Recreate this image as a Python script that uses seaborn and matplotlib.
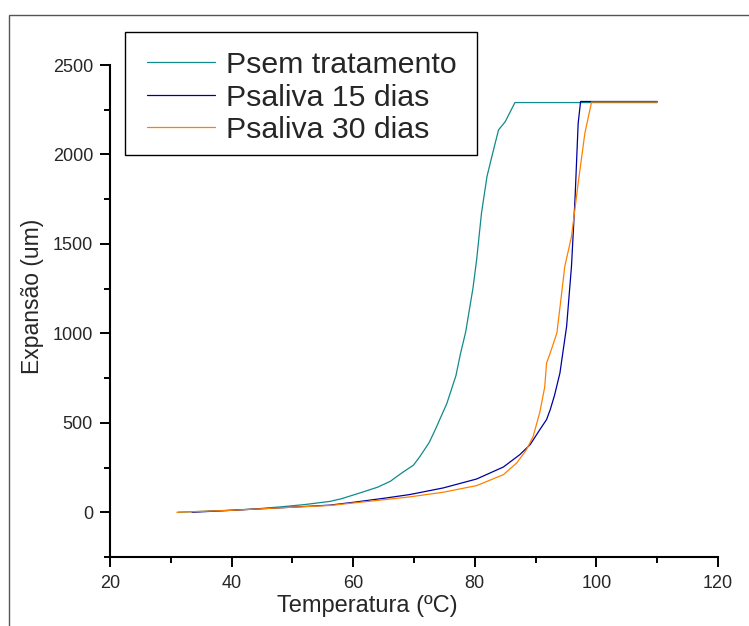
import numpy as np
import pandas as pd
import matplotlib
matplotlib.use("Agg")
import matplotlib.pyplot as plt
import seaborn as sns
from matplotlib.patches import Rectangle
from matplotlib.lines import Line2D
from matplotlib.ticker import MultipleLocator

# ---- data ----
series_names = ["Psem tratamento", "Psaliva 15 dias", "Psaliva 30 dias"]

temp_sem = [31.2, 35, 39.8, 44, 48.0, 52, 56.2, 58, 61.1, 64.0, 66.1, 68, 69.9, 71.0, 72.5,
            73.5, 75.4, 76.9, 77.6, 78.5, 79.7, 80.3, 81.1, 82.0, 82.8, 83.9, 85.0, 86.6, 110]
exp_sem = [0, 5, 11, 19, 30, 43, 61, 75, 108, 140, 173, 220, 263, 313, 390,
           462, 608, 764, 880, 1008, 1253, 1411, 1672, 1876, 1988, 2137, 2183, 2290, 2290]

temp_15 = [33.5, 40, 48, 56.2, 60.1, 65, 69.3, 74.8, 80.3, 84.7, 87.4, 89.1, 90.7, 91.8,
           92.4, 93.1, 94.0, 95.1, 95.9, 96.5, 97.0, 97.4, 110]
exp_15 = [0, 11, 25, 40, 56, 78, 99, 136, 186, 253, 322, 378, 462, 518,
          573, 652, 778, 1039, 1374, 1764, 2174, 2296, 2296]

temp_30 = [31, 40, 48, 56.2, 60, 65, 69.3, 74.8, 80.3, 84.7, 86.9, 88.5, 89.6, 90.7, 91.5,
           91.8, 92.3, 93.5, 94.2, 94.8, 95.9, 97.0, 98.1, 99.2, 110]
exp_30 = [0, 11, 25, 38, 52, 70, 86, 112, 149, 210, 276, 350, 424, 560, 700,
          834, 880, 1002, 1200, 1374, 1541, 1839, 2118, 2293, 2293]

colors = ["#108a8a", "#0000a0", "#ff8000"]

frames = []
for name, t, e in zip(series_names, [temp_sem, temp_15, temp_30], [exp_sem, exp_15, exp_30]):
    frames.append(pd.DataFrame({"Temperatura": t, "Expansao": e, "serie": name}))
df = pd.concat(frames, ignore_index=True)

sns.set_style("ticks")
plt.rcParams["font.family"] = ["Liberation Sans", "DejaVu Sans"]

W, H = 749, 626
fig = plt.figure(figsize=(W / 100, H / 100), dpi=100)
ax = fig.add_axes([110 / W, (H - 557) / H, (718 - 110) / W, (557 - 65) / H])

sns.lineplot(data=df, x="Temperatura", y="Expansao", hue="serie", hue_order=series_names,
             palette=colors, sort=False, estimator=None, linewidth=0.9, ax=ax, legend=False)

ax.set_xlim(20, 120)
ax.set_ylim(-250, 2500)
ax.xaxis.set_major_locator(MultipleLocator(20))
ax.xaxis.set_minor_locator(MultipleLocator(10))
ax.yaxis.set_major_locator(MultipleLocator(500))
ax.yaxis.set_minor_locator(MultipleLocator(250))
for s in ["top", "right"]:
    ax.spines[s].set_visible(False)
for s in ["left", "bottom"]:
    ax.spines[s].set_linewidth(1.5)
    ax.spines[s].set_color("black")
ax.tick_params(which="major", length=7.2, width=1.4, labelsize=13, color="black")
ax.tick_params(which="minor", length=4.3, width=1.4, color="black")
ax.tick_params(axis="x", which="major", pad=5.5)
ax.tick_params(axis="y", which="major", pad=5)

ax.set_xlabel("Temperatura (\u00baC)", fontsize=17)
ax.set_ylabel("Expansão (um)", fontsize=16.5)
ax.xaxis.set_label_coords((367 - 110) / 608, (557 - 595) / 492)
ax.yaxis.set_label_coords((44 - 110) / 608, (557 - 296) / 492)

# legend (content) + frame drawn at the reference position
handles = [Line2D([0], [0], color=c, lw=0.9) for c in colors]
leg = fig.legend(handles, series_names, loc="upper left",
                 bbox_to_anchor=(147 / W, 1 - 51 / H), bbox_transform=fig.transFigure,
                 fontsize=21.8, frameon=False,
                 handlelength=2.25, handletextpad=0.37, labelspacing=0.15,
                 borderpad=0, borderaxespad=0)
fig.patches.append(Rectangle((125 / W, 1 - 155 / H), (477 - 125) / W, (155 - 32) / H,
                             transform=fig.transFigure, fill=False,
                             edgecolor="black", linewidth=1.0))

# outer border
fig.patches.append(Rectangle((8.5 / W, -0.1), 1.2, 1 - 15 / H + 0.1, transform=fig.transFigure,
                             fill=False, edgecolor="#555555", linewidth=1.0))

fig.savefig("out.png", dpi=100)
